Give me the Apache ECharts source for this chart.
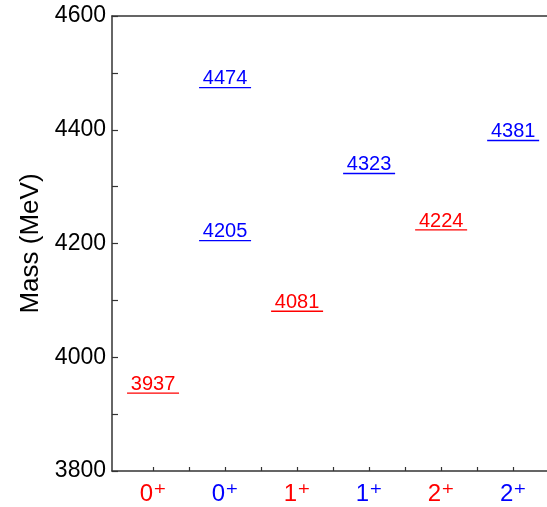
<!DOCTYPE html>
<html>
<head>
<meta charset="utf-8">
<script src="https://cdn.jsdelivr.net/npm/echarts@6/dist/echarts.min.js"></script>
<style>
  html, body { margin: 0; padding: 0; background: #fff; }
  #chart { width: 547px; height: 507px; }
</style>
</head>
<body>
<div id="chart"></div>
<script>
// states along the x axis (J^P), colour per column
const stateNames = ['0', '0', '1', '1', '2', '2'];
const stateColors = ['red', 'blue', 'red', 'blue', 'red', 'blue'];
const statePos = [1, 2, 3, 4, 5, 6];

// mass levels (MeV): [column, mass]
const redLevels = [[1, 3937], [3, 4081], [5, 4224]];
const blueLevels = [[2, 4205], [2, 4474], [4, 4323], [6, 4381]];

const yTicks = [3800, 4000, 4200, 4400, 4600];
const xTickPos = [1, 1.5, 2, 2.5, 3, 3.5, 4, 4.5, 5, 5.5, 6];

const RED = '#ff0000';
const BLUE = '#0000ff';
const AXIS = '#333333';
const FONT = 'Liberation Sans, Arial, sans-serif';

const chart = echarts.init(document.getElementById('chart'));

const levelSeries = (data, color) => ({
  type: 'scatter',
  data: data,
  symbol: 'rect',
  symbolSize: [52, 1.4],
  itemStyle: { color: color, opacity: 1 },
  label: {
    show: true,
    position: 'top',
    distance: -2,
    formatter: p => p.value[1],
    color: color,
    fontSize: 20,
    fontFamily: FONT
  },
  silent: true
});

const rich = {
  rn: { color: RED, fontSize: 24, fontFamily: FONT },
  rs: { color: RED, fontSize: 25, fontFamily: 'DejaVu Sans' },
  bn: { color: BLUE, fontSize: 24, fontFamily: FONT },
  bs: { color: BLUE, fontSize: 25, fontFamily: 'DejaVu Sans' }
};

const option = {
  animation: false,
  grid: { left: 112, right: 0, top: 16, bottom: 35 },
  xAxis: [
    {
      type: 'value',
      min: 0.43,
      max: 6.47,
      splitLine: { show: false },
      axisLine: { lineStyle: { color: AXIS, width: 1.5 } },
      axisTick: {
        inside: true,
        length: 4,
        customValues: xTickPos,
        lineStyle: { color: AXIS, width: 1.2 }
      },
      axisLabel: {
        customValues: statePos,
        margin: 11,
        formatter: v => {
          const i = statePos.indexOf(Math.round(v));
          const k = stateColors[i] === 'red' ? 'r' : 'b';
          return '{' + k + 'n|' + stateNames[i] + '}{' + k + 's|\u207A}';
        },
        rich: rich
      }
    },
    {
      type: 'value',
      position: 'top',
      min: 0.43,
      max: 6.47,
      splitLine: { show: false },
      axisLine: { show: true, lineStyle: { color: AXIS, width: 1.5 } },
      axisTick: { show: false },
      axisLabel: { show: false }
    }
  ],
  yAxis: {
    type: 'value',
    min: yTicks[0],
    max: yTicks[yTicks.length - 1],
    interval: 200,
    name: 'Mass (MeV)',
    nameLocation: 'middle',
    nameGap: 64,
    nameTextStyle: { fontSize: 26, color: '#000', fontFamily: FONT },
    splitLine: { show: false },
    axisLine: { show: true, lineStyle: { color: AXIS, width: 1.5 } },
    axisTick: { inside: true, length: 6, lineStyle: { color: AXIS, width: 1.2 } },
    minorTick: { show: true, splitNumber: 2, length: 6, lineStyle: { color: AXIS, width: 1.2 } },
    axisLabel: {
      fontSize: 23,
      color: '#000',
      fontFamily: FONT,
      margin: 6,
      formatter: v => String(v)
    }
  },
  series: [
    levelSeries(redLevels, RED),
    levelSeries(blueLevels, BLUE)
  ]
};

chart.setOption(option);
</script>
</body>
</html>
